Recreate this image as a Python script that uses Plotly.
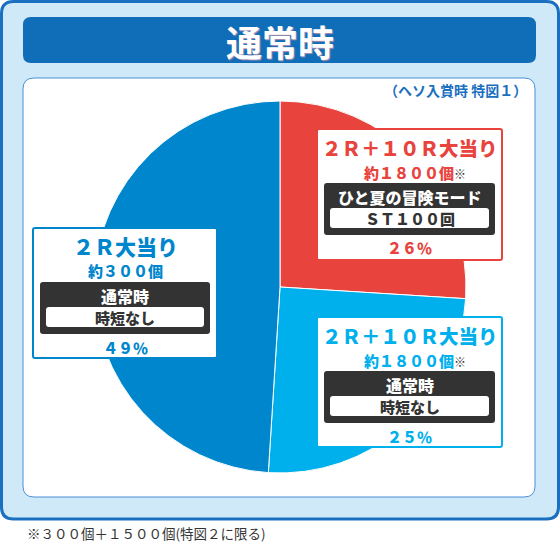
import plotly.graph_objects as go

W, H = 560, 543

# ---- data ----
slice_names = ["2R+10R大当り(ひと夏の冒険モード)", "2R+10R大当り(通常時)", "2R大当り(通常時)"]
slice_values = [26, 25, 49]
slice_colors = ["#e8433d", "#00b0ec", "#0086cc"]
box_titles = ["2R+10R大当り", "2R+10R大当り", "2R大当り"]
box_counts = ["約1800個", "約1800個", "約300個"]
box_marks = ["※", "※", ""]
box_modes = ["ひと夏の冒険モード", "通常時", "通常時"]
box_results = ["ST100回", "時短なし", "時短なし"]
chart_title = "通常時"
chart_subtitle = "（ヘソ入賞時 特図１）"
footnote = "※３００個＋１５００個(特図２に限る)"

FW = str.maketrans("0123456789%+RST", "０１２３４５６７８９％＋ＲＳＴ")
FONT = "Noto Sans CJK JP"


def X(x):
    return x / W


def Y(y):
    return 1 - y / H


def rrect(x0, y0, x1, y1, r):
    p = [
        f"M {X(x0 + r)},{Y(y0)}",
        f"L {X(x1 - r)},{Y(y0)}",
        f"Q {X(x1)},{Y(y0)} {X(x1)},{Y(y0 + r)}",
        f"L {X(x1)},{Y(y1 - r)}",
        f"Q {X(x1)},{Y(y1)} {X(x1 - r)},{Y(y1)}",
        f"L {X(x0 + r)},{Y(y1)}",
        f"Q {X(x0)},{Y(y1)} {X(x0)},{Y(y1 - r)}",
        f"L {X(x0)},{Y(y0 + r)}",
        f"Q {X(x0)},{Y(y0)} {X(x0 + r)},{Y(y0)}",
        "Z",
    ]
    return " ".join(p)


shapes = []


def add_rr(x0, y0, x1, y1, r, fill, line=None, lw=0, layer="above"):
    shapes.append(dict(
        type="path", xref="paper", yref="paper", path=rrect(x0, y0, x1, y1, r),
        fillcolor=fill, line=dict(color=line or fill, width=lw if line else 0),
        layer=layer,
    ))


# background frame, banner, panel
add_rr(1.5, 1.5, 558.5, 519, 12, "#cfe9f8", "#1a70c0", 3, "below")
add_rr(23, 17, 536, 63, 8, "#106db8", layer="below")
add_rr(23, 78, 535, 497, 11, "#ffffff", "#4d8fd6", 1, "below")

annotations = []


def txt(x, y, s, size, color, xanchor="center", weight="bold"):
    annotations.append(dict(
        x=X(x), y=Y(y), xref="paper", yref="paper", text=s, showarrow=False,
        xanchor=xanchor, yanchor="middle",
        font=dict(family=FONT, size=size, color=color, weight=weight),
    ))


annotations.append(dict(
    x=X(280), y=Y(41), xref="paper", yref="paper", text=chart_title, showarrow=False,
    xanchor="center", yanchor="middle",
    font=dict(family=FONT, size=36, color="#ffffff", weight="bold",
              shadow="1px 1px 1px #b890b0"),
))
txt(529, 90, chart_subtitle, 14, "#1a6fbf", "right")
annotations.append(dict(
    x=X(25), y=Y(533), xref="paper", yref="paper", text=footnote, showarrow=False,
    xanchor="left", yanchor="middle",
    font=dict(family=FONT, size=13.5, color="#333333"),
))

# label boxes: (left, top, right, bottom)
boxes = [(317, 129, 502, 260), (317, 317, 502, 447), (33, 228, 217, 358)]
title_sizes = [19.5, 19.5, 21]
for i, (l, t, r, b) in enumerate(boxes):
    c = slice_colors[i]
    cx = (l + r) / 2
    add_rr(l, t, r, b, 2, "#ffffff", c, 2)
    add_rr(l + 7, t + 54, r - 7, t + 106, 3, "#333333")
    add_rr(l + 13, t + 79, r - 13, t + 99, 3, "#ffffff")
    txt(cx, t + 18, box_titles[i].translate(FW), title_sizes[i], c, weight=900)
    cnt = box_counts[i].translate(FW)
    if box_marks[i]:
        cnt += f"<span style='color:#333333;font-size:12px'>{box_marks[i]}</span>"
    txt(cx + (5 if box_marks[i] else 0), t + 43, cnt, 15, c, weight=900)
    txt(cx, t + 68, box_modes[i], 16, "#ffffff", weight=900)
    txt(cx, t + 89, box_results[i].translate(FW), 15, "#333333", weight=900)
    txt(cx, t + 119, f"{slice_values[i]}%".translate(FW), 15, c, weight=900)

fig = go.Figure(go.Pie(
    labels=slice_names, values=slice_values, sort=False, direction="clockwise",
    rotation=0, marker=dict(colors=slice_colors, line=dict(color="#ffffff", width=1)),
    textinfo="none", hoverinfo="skip", showlegend=False,
    domain=dict(x=[X(94), X(466)], y=[Y(473), Y(101)]),
))

fig.update_layout(
    width=W, height=H, margin=dict(l=0, r=0, t=0, b=0),
    paper_bgcolor="#ffffff", plot_bgcolor="#ffffff",
    shapes=shapes, annotations=annotations, showlegend=False,
)
fig.write_html("out.html", config={"displayModeBar": False})
